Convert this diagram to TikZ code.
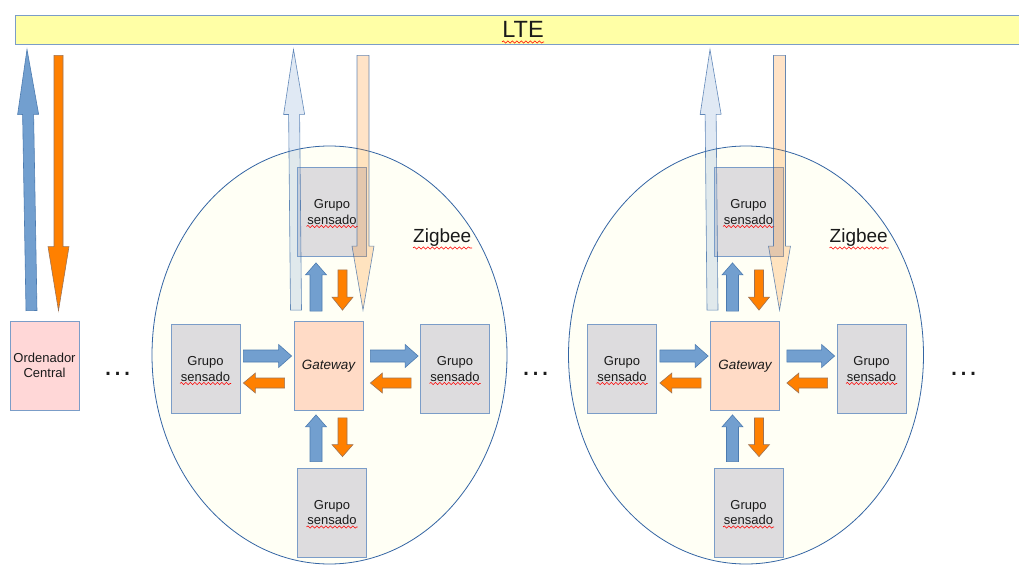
\documentclass[tikz,border=0pt]{standalone}
\usepackage{fontspec}
\setmainfont{Liberation Sans}
\usetikzlibrary{calc,shapes.geometric,decorations.pathmorphing}

\definecolor{shapeborder}{HTML}{3465A4}
\definecolor{boxborder}{HTML}{7B9DC8}
\definecolor{arblue}{HTML}{729FCF}
\definecolor{arblueline}{HTML}{4C7BB0}
\definecolor{arorange}{HTML}{FF8000}
\definecolor{arorangeline}{HTML}{9C7356}
\definecolor{ltefill}{HTML}{FFFFA6}
\definecolor{grayfill}{HTML}{DDDCDE}
\definecolor{gwfill}{HTML}{FFDBC6}
\definecolor{pcfill}{HTML}{FFD7D7}
\definecolor{zbfill}{HTML}{FFFFF5}
\definecolor{txt}{HTML}{1A1A1A}

% block arrow: style, from, to, shaft half-width, head half-width, head length (all in pt)
\newcommand{\blockarrow}[6]{%
  \coordinate (baS) at #2;
  \coordinate (baE) at #3;
  \coordinate (baH) at ($(baE)!#6pt!(baS)$);
  \path[#1] ($(baS)!#4pt!90:(baE)$) -- ($(baH)!#4pt!90:(baE)$) -- ($(baH)!#5pt!90:(baE)$)
    -- (baE) -- ($(baH)!#5pt!-90:(baE)$) -- ($(baH)!#4pt!-90:(baE)$) -- ($(baS)!#4pt!-90:(baE)$) -- cycle;
}

\begin{document}
\begin{tikzpicture}[x=1pt,y=1pt,
  box/.style={draw=boxborder, line width=0.8pt, fill=grayfill, minimum width=69pt,
    minimum height=89pt, inner sep=0pt, align=center, text=txt,
    font=\fontsize{13}{15.5}\selectfont},
  gwbox/.style={box, fill=gwfill, font=\fontsize{13.5}{16}\selectfont\itshape},
  pcbox/.style={box, fill=pcfill},
  zone/.style={ellipse, draw=shapeborder, line width=0.8pt, fill=zbfill,
    minimum width=355pt, minimum height=418pt, inner sep=0pt},
  ltebar/.style={draw=boxborder, line width=0.9pt, fill=ltefill, minimum width=1016pt,
    minimum height=29pt, inner sep=0pt, text=txt, font=\fontsize{23.5}{26}\selectfont},
  zlabel/.style={anchor=base west, inner sep=0pt, text=txt, font=\fontsize{19}{22}\selectfont},
  dots/.style={anchor=base, inner sep=0pt, text=txt, font=\fontsize{30}{32}\selectfont},
  upblue/.style={fill=arblue, draw=arblueline, line width=0.6pt},
  downorange/.style={fill=arorange, draw=arorangeline, line width=0.6pt},
  paleblue/.style={fill=arblue, fill opacity=0.22, draw=shapeborder, draw opacity=0.75, line width=0.6pt},
  paleorange/.style={fill=arorange, fill opacity=0.22, draw=shapeborder, draw opacity=0.75, line width=0.6pt},
  squig/.style={draw=red, line width=0.6pt, decorate,
    decoration={snake, amplitude=1.1pt, segment length=4.5pt}}
]
\useasboundingbox (0,0) rectangle (1019,-569);
\fill[white] (0,0) rectangle (1019,-569);
\clip (0,0) rectangle (1019,-569);

% LTE backbone
\node[ltebar] (lte) at (523,-29.5) {LTE};
\draw[squig] (502,-42) -- (544,-42);

% central computer
\node[pcbox] (pc) at (44.5,-365.5) {Ordenador\\Central};
\blockarrow{upblue}{($(pc.north)+(-13,10)$)}{($(pc.north |- lte.south)+(-17.5,-5)$)}{5.5}{10.5}{65}
\blockarrow{downorange}{($(pc.north |- lte.south)+(14,-11)$)}{($(pc.north)+(14,10)$)}{4.5}{10.5}{64}

% ellipsis markers between groups
\node[dots] (d1) at (117.5,-375.5) {…};
\node[dots] (d2) at (535.5,-375.5) {…};
\node[dots] (d3) at (963.5,-375.5) {…};

% two Zigbee clusters
\foreach \dx/\k in {0/a, 416.5/b} {
  \begin{scope}[xshift=\dx]
    \node[zone] (zb\k) at (329.5,-355) {};
    \node[box] (tb\k) at (332,-212) {Grupo\\sensado};
    \node[gwbox] (gw\k) at (328.5,-366) {Gateway};
    \node[box] (lb\k) at (205.5,-369) {Grupo\\sensado};
    \node[box] (rb\k) at (455,-369) {Grupo\\sensado};
    \node[box] (bb\k) at (332,-512.5) {Grupo\\sensado};
    \node[zlabel] (zt\k) at (413,-243) {Zigbee};
  \end{scope}
}

\foreach \k in {a,b} {
  % spelling marks under the labels
  \foreach \b in {tb,lb,rb,bb} {
    \draw[squig] ($(\b\k.center)+(-25.5,-14.5)$) -- ++(51,0);
  }
  \draw[squig] ($(zt\k.base west)+(0,-5)$) -- ++(59,0);

  % gateway <-> top group
  \blockarrow{upblue}{($(gw\k.north)+(-12.5,10)$)}{($(tb\k.south)+(-16,-6)$)}{6}{10.5}{12}
  \blockarrow{downorange}{($(tb\k.south)+(10.5,-13)$)}{($(gw\k.north)+(14,11)$)}{4.5}{10.5}{13}
  % gateway <-> left group
  \blockarrow{upblue}{($(lb\k.east)+(3,13)$)}{($(gw\k.west)+(-2,10)$)}{6}{11.5}{13}
  \blockarrow{downorange}{($(gw\k.west)+(-9,-17)$)}{($(lb\k.east)+(3,-14)$)}{5}{10}{12}
  % gateway <-> right group
  \blockarrow{upblue}{($(gw\k.east)+(7,10)$)}{($(rb\k.west)+(-2,13)$)}{6}{11.5}{13}
  \blockarrow{downorange}{($(rb\k.west)+(-9,-14)$)}{($(gw\k.east)+(7,-17)$)}{5}{10}{12}
  % gateway <-> bottom group
  \blockarrow{upblue}{($(bb\k.north)+(-16,6)$)}{($(gw\k.south)+(-12.5,-4)$)}{6}{10.5}{12}
  \blockarrow{downorange}{($(gw\k.south)+(14,-7)$)}{($(bb\k.north)+(10.5,11)$)}{4.5}{10.5}{12}

  % gateway <-> LTE
  \blockarrow{paleblue}{($(gw\k.north)+(-32.5,11)$)}{($(gw\k.north |- lte.south)+(-35,-5)$)}{5.5}{10.5}{65}
  \blockarrow{paleorange}{($(gw\k.north |- lte.south)+(34.5,-11)$)}{($(gw\k.north)+(34.5,11)$)}{6}{11}{64}
}
\end{tikzpicture}
\end{document}
